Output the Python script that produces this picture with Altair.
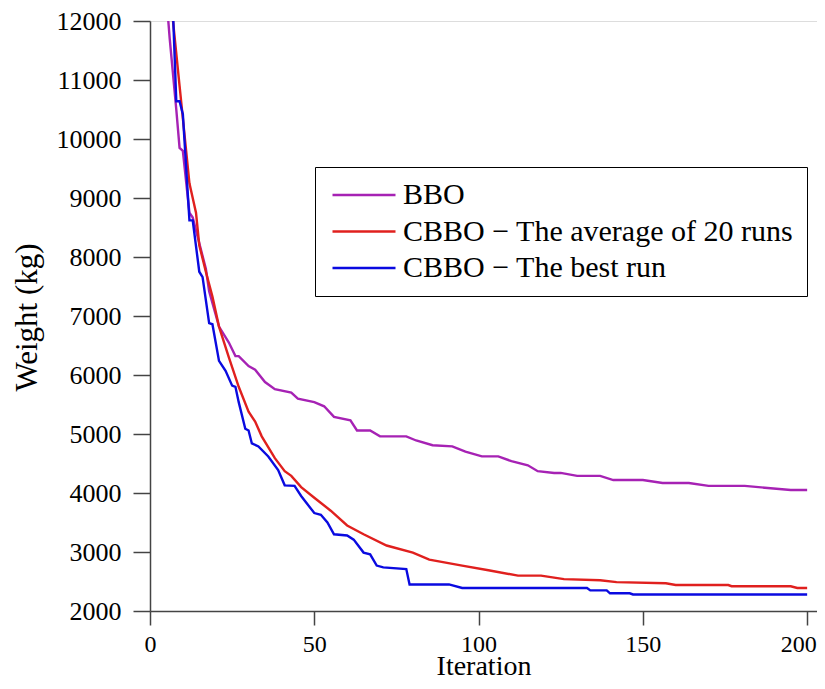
import altair as alt
import pandas as pd

series_names = ["BBO", "CBBO \u2212 The average of 20 runs", "CBBO \u2212 The best run"]
series_colors = ["#a622b4", "#e0201e", "#0a0ae0"]
series_widths = [2.4, 2.4, 4.0]

bbo_iter = [1, 5, 6, 8, 9, 10, 12, 13, 17, 18, 21, 24, 26, 27, 30, 32, 35, 38, 43, 45,
            50, 53, 56, 61, 63, 67, 70, 78, 81, 86, 92, 96, 101, 106, 110, 115, 118,
            123, 125, 130, 137, 141, 150, 156, 164, 170, 181, 195, 200]
bbo_weight = [24000, 12400, 11700, 10500, 9850, 9800, 8750, 8670, 7800, 7420, 6820, 6550,
              6320, 6320, 6150, 6090, 5880, 5760, 5700, 5600, 5540, 5470, 5290, 5230,
              5060, 5060, 4960, 4960, 4890, 4810, 4790, 4700, 4620, 4620, 4540, 4470,
              4370, 4340, 4340, 4290, 4290, 4220, 4220, 4170, 4170, 4120, 4120, 4050, 4050]

avg_iter = [1, 7, 9, 12, 14, 15, 17, 19, 21, 24, 27, 30, 32, 34, 38, 41, 43, 46, 50, 55,
            60, 65, 72, 80, 85, 95, 103, 112, 119, 126, 137, 142, 157, 160, 176, 177,
            195, 197, 200]
avg_weight = [20000, 12000, 10900, 9250, 8750, 8200, 7750, 7330, 6820, 6300, 5800, 5380,
              5210, 4960, 4590, 4370, 4290, 4100, 3920, 3700, 3450, 3300, 3110, 2990,
              2870, 2770, 2690, 2600, 2600, 2540, 2520, 2490, 2470, 2440, 2440, 2420,
              2420, 2390, 2390]

best_iter = [1, 6, 7, 8, 9, 10, 12, 13, 15, 16, 18, 19, 21, 23, 25, 26, 27, 29, 30, 31,
             33, 36, 39, 41, 44, 46, 50, 52, 54, 56, 60, 62, 65, 67, 69, 71, 78, 79, 91,
             95, 133, 134, 139, 140, 146, 147, 200]
best_weight = [30000, 14000, 12150, 10640, 10640, 10420, 8620, 8620, 7750, 7660, 6880,
               6860, 6240, 6070, 5820, 5800, 5540, 5090, 5060, 4840, 4790, 4620, 4390,
               4130, 4120, 3950, 3660, 3630, 3500, 3300, 3280, 3210, 2990, 2960, 2770,
               2740, 2710, 2450, 2450, 2390, 2390, 2350, 2350, 2300, 2300, 2280, 2280]

x_ticks = [0, 50, 100, 150, 200]
y_ticks = [2000, 3000, 4000, 5000, 6000, 7000, 8000, 9000, 10000, 11000, 12000]

rows = []
for name, its, ws in zip(series_names, [bbo_iter, avg_iter, best_iter],
                         [bbo_weight, avg_weight, best_weight]):
    for i, w in zip(its, ws):
        rows.append({"series": name, "iteration": i, "weight": w})
df = pd.DataFrame(rows)

FONT = "Liberation Serif"
AX = "#444444"

chart = alt.Chart(df).mark_line(clip=True, strokeJoin="miter").encode(
    x=alt.X("iteration:Q",
            scale=alt.Scale(domain=[0, 203], nice=False, zero=False),
            axis=alt.Axis(values=x_ticks, title="Iteration",
                          grid=False, tickSize=14, tickWidth=1.5, tickColor=AX,
                          domainColor=AX, domainWidth=1.5,
                          labelFont=FONT, labelFontSize=24, labelColor="black",
                          labelPadding=7, labelFlush=False,
                          labelOffset={"condition": {"test": "datum.value == 200", "value": -9},
                                       "value": 0},
                          titleFont=FONT, titleFontSize=28, titleFontWeight="normal",
                          titleColor="black", titleBaseline="alphabetic", titleY=63)),
    y=alt.Y("weight:Q",
            scale=alt.Scale(domain=[2000, 12000], nice=False, zero=False),
            axis=alt.Axis(values=y_ticks, format="d",
                          title="Weight (kg)", grid=False, tickSize=17, tickWidth=1.5,
                          tickColor=AX, domainColor=AX, domainWidth=1.5,
                          labelFont=FONT, labelFontSize=26, labelColor="black",
                          labelPadding=12, labelFlush=False,
                          titleFont=FONT, titleFontSize=31, titleFontWeight="normal",
                          titleColor="black", titleAngle=270, titleBaseline="middle",
                          titleAlign="center", titleX=-123, titleY=296)),
    color=alt.Color("series:O", sort=series_names,
                    scale=alt.Scale(domain=series_names, range=series_colors),
                    legend=alt.Legend(title=None, orient="none", legendX=165, legendY=146,
                                      strokeColor="black", fillColor="white", padding=13,
                                      symbolType="M-1,0H5", symbolSize=441,
                                      symbolStrokeWidth=2.8, labelFont=FONT,
                                      labelFontSize=30, labelColor="black", labelOffset=45,
                                      labelLimit=600, rowPadding=6.5)),
    strokeWidth=alt.StrokeWidth("series:O", sort=series_names,
                                scale=alt.Scale(domain=series_names, range=series_widths),
                                legend=None),
    order=alt.Order("iteration:Q"),
).properties(
    width=667, height=590,
    autosize=alt.AutoSizeParams(type="none"),
    padding={"left": 142, "top": 13, "right": 0, "bottom": 70},
).configure_view(stroke=None).configure(background="white")

chart.save("out.html", embed_options={"renderer": "svg", "actions": False})
